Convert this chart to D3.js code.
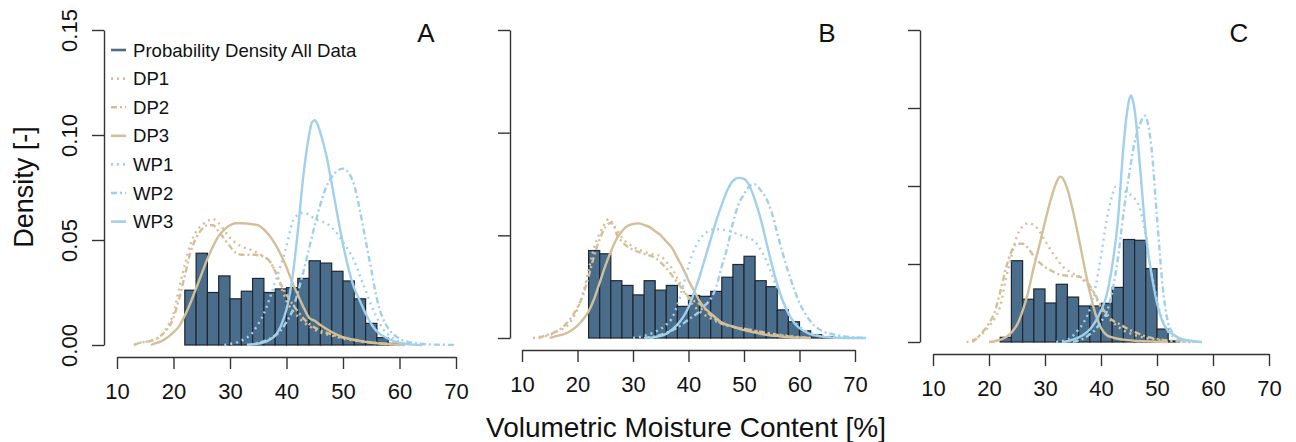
<!doctype html>
<html>
<head>
<meta charset="utf-8">
<script src="https://cdn.jsdelivr.net/npm/d3@7"></script>
<style>
  body { margin: 0; background: #fff; }
  svg { display: block; font-family: "Liberation Sans", Arial, sans-serif; }
</style>
</head>
<body>
<script>
// ---- data ----
var xTicks = [10, 20, 30, 40, 50, 60, 70];
var yTicksAB = [0, 0.05, 0.10, 0.15];
var yTicksC = [0, 0.05, 0.10, 0.15, 0.20];
var yTickLabels = ["0.00", "0.05", "0.10", "0.15"];
var panelNames = ["A", "B", "C"];
var seriesNames = ["DP1", "DP2", "DP3", "WP1", "WP2", "WP3"];
var legendLabels = ["Probability Density All Data", "DP1", "DP2", "DP3", "WP1", "WP2", "WP3"];

// histogram bin lower edges (bin width 2 %)
var binEdges = [22, 24, 26, 28, 30, 32, 34, 36, 38, 40, 42, 44, 46, 48, 50, 52, 54, 56, 58, 60, 62, 64, 66];
var histA = [0.0261, 0.0437, 0.0250, 0.0329, 0.0220, 0.0256, 0.0317, 0.0250, 0.0267, 0.0273, 0.0317,
             0.0401, 0.0390, 0.0351, 0.0305, 0.0220, 0.0103, 0.0035, 0.0008];
var histB = [0.0426, 0.0410, 0.0279, 0.0256, 0.0210, 0.0279, 0.0233, 0.0256, 0.0154, 0.0207, 0.0203,
             0.0227, 0.0296, 0.0358, 0.0398, 0.0279, 0.0250, 0.0137, 0.0079, 0.0035, 0.0016, 0.0006];
var histC = [0.0030, 0.0521, 0.0274, 0.0340, 0.0250, 0.0370, 0.0288, 0.0231, 0.0231, 0.0248, 0.0350,
             0.0657, 0.0652, 0.0470, 0.0083, 0.0007];

// density curves, [moisture %, density]
var A_DP1 = [[13,0],[14,0.001],[16,0.002],[18,0.005],[19,0.009],[20,0.015],[21,0.027],[22,0.038],[23,0.048],[24,0.054],[25,0.057],[26,0.059],[27,0.060],[28,0.058],[30,0.051],[32,0.047],[34,0.045],[36,0.042],[37,0.040],[38,0.035],[39,0.028],[40,0.021],[42,0.0135],[44,0.009],[46,0.006],[48,0.0045],[50,0.003],[52,0.0022],[54,0.0015],[56,0.001],[58,0.0005],[60,0]];
var A_DP2 = [[13,0],[14,0.001],[16,0.002],[18,0.005],[20,0.013],[21,0.022],[22,0.033],[23,0.044],[24,0.051],[25,0.055],[26,0.057],[27,0.057],[28,0.054],[30,0.047],[31,0.044],[32,0.043],[34,0.043],[36,0.042],[37,0.040],[38,0.035],[39,0.029],[40,0.024],[42,0.016],[44,0.010],[46,0.007],[48,0.005],[50,0.0035],[52,0.0025],[54,0.0015],[56,0.001],[58,0.0005],[60,0]];
var A_DP3 = [[16,0],[17,0.001],[18,0.002],[20,0.006],[21,0.009],[22,0.014],[23,0.020],[24,0.027],[25,0.034],[26,0.041],[27,0.047],[28,0.052],[29,0.055],[30,0.057],[31,0.058],[32,0.058],[34,0.0575],[35,0.057],[36,0.055],[37,0.052],[38,0.048],[39,0.043],[40,0.037],[41,0.030],[42,0.024],[43,0.018],[44,0.013],[45,0.0115],[46,0.0095],[48,0.0062],[50,0.0037],[52,0.0024],[54,0.0015],[56,0.0008],[58,0.0004],[60,0.0001],[61,0]];
var A_WP1 = [[29,0],[30,0.0005],[32,0.002],[34,0.006],[35,0.010],[36,0.015],[37,0.022],[38,0.030],[39,0.038],[40,0.047],[41,0.058],[42,0.062],[43,0.063],[44,0.062],[45,0.060],[46,0.059],[47,0.058],[48,0.056],[49,0.053],[50,0.049],[51,0.045],[52,0.040],[53,0.033],[54,0.026],[55,0.019],[56,0.013],[57,0.008],[58,0.005],[60,0.0015],[62,0.0004],[64,0]];
var A_WP2 = [[33,0],[35,0.001],[37,0.003],[39,0.007],[40,0.011],[41,0.016],[42,0.025],[43,0.035],[44,0.046],[45,0.057],[46,0.067],[47,0.075],[48,0.080],[49,0.083],[50,0.084],[51,0.082],[52,0.076],[53,0.064],[54,0.050],[55,0.036],[56,0.022],[57,0.013],[58,0.008],[60,0.003],[62,0.0012],[64,0.0005],[66,0.0002],[68,0.0001],[70,0]];
var A_WP3 = [[33,0],[34,0.0003],[36,0.0012],[37,0.0025],[38,0.0045],[39,0.009],[40,0.017],[41,0.031],[42,0.054],[43,0.081],[44,0.100],[44.5,0.106],[45,0.107],[45.5,0.105],[46,0.101],[47,0.091],[48,0.077],[49,0.062],[50,0.048],[51,0.036],[52,0.027],[53,0.021],[54,0.015],[55,0.010],[56,0.0065],[58,0.003],[60,0.001],[62,0.0003],[64,0]];

var B_DP1 = [[12,0],[13,0.0005],[15,0.0015],[17,0.004],[18,0.0055],[19,0.009],[20,0.014],[21,0.022],[22,0.033],[23,0.044],[24,0.051],[25,0.056],[25.6,0.058],[26,0.057],[27,0.053],[28,0.049],[30,0.0445],[32,0.042],[34,0.0405],[35,0.040],[36,0.037],[37,0.034],[38,0.029],[39,0.024],[40,0.019],[42,0.013],[44,0.0095],[46,0.007],[48,0.0055],[50,0.0045],[52,0.0035],[54,0.0025],[56,0.0018],[58,0.001],[60,0.0005],[62,0]];
var B_DP2 = [[13,0],[14,0.001],[16,0.003],[18,0.007],[20,0.015],[21,0.021],[22,0.030],[23,0.040],[24,0.048],[25,0.054],[26,0.056],[26.5,0.055],[27,0.051],[28,0.047],[30,0.043],[32,0.041],[34,0.039],[36,0.034],[38,0.027],[40,0.020],[41,0.018],[42,0.0165],[43,0.014],[44,0.011],[46,0.007],[48,0.0055],[50,0.0045],[52,0.0035],[54,0.0025],[56,0.0015],[58,0.0008],[60,0.0003],[62,0]];
var B_DP3 = [[15,0],[16,0.0008],[18,0.0023],[20,0.006],[21,0.009],[22,0.013],[23,0.019],[24,0.027],[25,0.035],[26,0.042],[27,0.048],[28,0.052],[29,0.0545],[30,0.0555],[31,0.0558],[32,0.055],[33,0.054],[34,0.052],[35,0.050],[36,0.047],[37,0.044],[38,0.039],[39,0.034],[40,0.028],[41,0.023],[42,0.018],[43,0.0145],[44,0.012],[46,0.0075],[48,0.0055],[50,0.0038],[52,0.0027],[54,0.0016],[56,0.0009],[58,0.0004],[60,0.0002],[62,0]];
var B_WP1 = [[30,0],[32,0.001],[34,0.003],[36,0.0065],[37,0.0095],[38,0.016],[39,0.025],[40,0.035],[41,0.043],[42,0.048],[43,0.051],[44,0.0525],[45,0.053],[46,0.0528],[47,0.0525],[48,0.0515],[49,0.0505],[50,0.0495],[51,0.0485],[52,0.047],[53,0.043],[54,0.038],[55,0.031],[56,0.024],[57,0.018],[58,0.012],[59,0.008],[60,0.0055],[62,0.0025],[64,0.001],[66,0.0004],[68,0]];
var B_WP2 = [[32,0],[34,0.0008],[36,0.0025],[38,0.005],[40,0.009],[42,0.013],[43,0.016],[44,0.019],[45,0.025],[46,0.035],[47,0.044],[48,0.056],[49,0.065],[50,0.070],[51,0.074],[51.7,0.075],[52,0.0748],[53,0.072],[54,0.068],[55,0.061],[56,0.051],[57,0.041],[58,0.032],[59,0.024],[60,0.017],[61,0.012],[62,0.008],[64,0.0035],[66,0.0018],[68,0.0008],[70,0.0003],[72,0]];
var B_WP3 = [[33,0],[34,0.0005],[36,0.002],[37,0.004],[38,0.0065],[39,0.010],[40,0.015],[41,0.022],[42,0.030],[43,0.039],[44,0.048],[45,0.057],[46,0.065],[47,0.072],[48,0.0765],[49,0.078],[50,0.0775],[51,0.074],[52,0.067],[53,0.058],[54,0.047],[55,0.036],[56,0.026],[57,0.018],[58,0.012],[59,0.0075],[60,0.0048],[62,0.0018],[64,0.0007],[66,0.0002],[68,0],[72,0]];

var C_DP1 = [[16,0],[17,0.001],[18,0.003],[19,0.006],[20,0.010],[21,0.015],[22,0.023],[23,0.040],[24,0.055],[25,0.068],[26,0.074],[27,0.076],[28,0.075],[29,0.071],[30,0.065],[31,0.059],[32,0.054],[33,0.049],[34,0.046],[35,0.044],[36,0.042],[37,0.039],[38,0.035],[39,0.029],[40,0.022],[41,0.017],[42,0.013],[43,0.010],[44,0.0075],[46,0.0045],[48,0.0025],[50,0.0015],[52,0.0008],[54,0.0003],[56,0]];
var C_DP2 = [[17,0],[18,0.003],[19,0.007],[20,0.012],[21,0.019],[22,0.032],[23,0.047],[24,0.058],[25,0.063],[26,0.063],[27,0.060],[28,0.055],[29,0.051],[30,0.048],[31,0.046],[32,0.044],[34,0.0425],[36,0.042],[37,0.040],[38,0.036],[39,0.030],[40,0.023],[41,0.018],[42,0.014],[43,0.012],[44,0.010],[45,0.008],[46,0.0065],[48,0.0035],[50,0.002],[52,0.001],[54,0.0004],[56,0]];
var C_DP3 = [[20,0],[21,0.0005],[22,0.0015],[23,0.003],[24,0.006],[25,0.011],[26,0.020],[27,0.032],[28,0.048],[29,0.062],[30,0.077],[31,0.091],[32,0.102],[32.7,0.106],[33,0.1055],[34,0.098],[35,0.084],[36,0.067],[37,0.049],[38,0.032],[39,0.018],[40,0.009],[41,0.0045],[42,0.003],[44,0.0015],[46,0.0008],[48,0.0005],[50,0.0002],[52,0]];
var C_WP1 = [[32,0],[34,0.0015],[35,0.004],[36,0.008],[37,0.013],[38,0.021],[39,0.035],[40,0.055],[41,0.078],[42,0.094],[42.6,0.0996],[43,0.0995],[44,0.097],[45,0.095],[46,0.092],[47,0.085],[48,0.068],[49,0.045],[50,0.027],[51,0.014],[52,0.0065],[53,0.003],[54,0.0012],[56,0]];
var C_WP2 = [[35,0],[36,0.001],[37,0.0025],[38,0.005],[39,0.008],[40,0.013],[41,0.019],[42,0.032],[43,0.053],[44,0.082],[45,0.107],[46,0.128],[47,0.140],[47.8,0.145],[48.5,0.138],[49,0.125],[50,0.080],[51,0.036],[52,0.012],[53,0.005],[54,0.0018],[56,0.0004],[58,0]];
var C_WP3 = [[33,0],[34,0.0005],[35,0.0015],[36,0.003],[37,0.005],[38,0.008],[39,0.013],[40,0.020],[41,0.030],[42,0.049],[43,0.077],[44,0.125],[44.6,0.146],[45,0.155],[45.4,0.158],[45.8,0.153],[46,0.149],[47,0.111],[48,0.069],[49,0.044],[50,0.025],[51,0.013],[52,0.007],[53,0.0045],[54,0.0025],[56,0.0008],[58,0]];

// ---- styling ----
var barFill = "#4a6d8b";
var barStroke = "#1d2731";
var tan = "#d3bf99";
var blue = "#a0d0ec";
var axisColor = "#333";
var seriesColor = [tan, tan, tan, blue, blue, blue];
var seriesDash = ["2,4", "6,3,2,3", null, "2,4", "6,3,2,3", null];

var svgW = 1296, svgH = 442;
var svg = d3.select("body").append("svg")
  .attr("width", svgW)
  .attr("height", svgH);

var panels = [
  {hist: histA, curves: [A_DP1, A_DP2, A_DP3, A_WP1, A_WP2, A_WP3],
   left: 117, right: 456, xAxisY: 357, yAxisX: 104, y0: 345, y1: 30, yMax: 0.15, yTicks: yTicksAB, letterX: 426},
  {hist: histB, curves: [B_DP1, B_DP2, B_DP3, B_WP1, B_WP2, B_WP3],
   left: 522, right: 855, xAxisY: 350, yAxisX: 510, y0: 338, y1: 30, yMax: 0.15, yTicks: yTicksAB, letterX: 827},
  {hist: histC, curves: [C_DP1, C_DP2, C_DP3, C_WP1, C_WP2, C_WP3],
   left: 933, right: 1269, xAxisY: 354, yAxisX: 920, y0: 342, y1: 30, yMax: 0.20, yTicks: yTicksC, letterX: 1239}
];

panels.forEach(function(p, pi) {
  var x = d3.scaleLinear().domain([10, 70]).range([p.left, p.right]);
  var y = d3.scaleLinear().domain([0, p.yMax]).range([p.y0, p.y1]);
  var g = svg.append("g");

  // histogram bars
  g.selectAll("rect.bar")
    .data(p.hist)
    .enter()
    .append("rect")
    .attr("class", "bar")
    .attr("x", function(d, i) { return x(binEdges[i]); })
    .attr("width", function(d, i) { return x(binEdges[i + 1]) - x(binEdges[i]); })
    .attr("y", function(d) { return y(d); })
    .attr("height", function(d) { return y(0) - y(d); })
    .attr("fill", barFill)
    .attr("stroke", barStroke)
    .attr("stroke-width", 1.2);

  // density curves
  var line = d3.line()
    .x(function(d) { return x(d[0]); })
    .y(function(d) { return y(d[1]); })
    .curve(d3.curveMonotoneX);

  p.curves.forEach(function(c, ci) {
    g.append("path")
      .attr("d", line(c))
      .attr("fill", "none")
      .attr("stroke", seriesColor[ci])
      .attr("stroke-width", 2.4)
      .attr("stroke-dasharray", seriesDash[ci]);
  });

  // x axis, offset below the plot like base R
  var xAxis = d3.axisBottom(x).tickValues(xTicks).tickSize(12).tickSizeOuter(0).tickPadding(14);
  var gx = svg.append("g")
    .attr("transform", "translate(0," + p.xAxisY + ")")
    .call(xAxis);
  gx.select(".domain").attr("stroke", axisColor).attr("stroke-width", 1.4);
  gx.selectAll(".tick line").attr("stroke", axisColor).attr("stroke-width", 1.4);
  gx.selectAll("text")
    .attr("font-family", "Liberation Sans, Arial, sans-serif")
    .attr("font-size", "22px")
    .attr("fill", "#111");

  // y axis
  var yAxis = d3.axisLeft(y).tickValues(p.yTicks).tickSize(12).tickSizeOuter(0)
    .tickFormat(function(d, i) { return pi === 0 ? yTickLabels[i] : ""; });
  var gy = svg.append("g")
    .attr("transform", "translate(" + p.yAxisX + ",0)")
    .call(yAxis);
  gy.select(".domain").attr("stroke", axisColor).attr("stroke-width", 1.4);
  gy.selectAll(".tick line").attr("stroke", axisColor).attr("stroke-width", 1.4);
  gy.selectAll("text")
    .attr("font-family", "Liberation Sans, Arial, sans-serif")
    .attr("font-size", "22px")
    .attr("fill", "#111")
    .attr("x", null).attr("dy", null)
    .attr("text-anchor", "middle")
    .attr("transform", "translate(-27,0) rotate(-90)");

  // panel letter
  svg.append("text")
    .attr("x", p.letterX)
    .attr("y", 42)
    .attr("text-anchor", "middle")
    .attr("font-size", "26px")
    .attr("fill", "#111")
    .text(panelNames[pi]);
});

// axis titles
svg.append("text")
  .attr("x", 686)
  .attr("y", 437)
  .attr("text-anchor", "middle")
  .attr("font-size", "28px")
  .attr("fill", "#111")
  .text("Volumetric Moisture Content [%]");

svg.append("text")
  .attr("transform", "translate(33,187) rotate(-90)")
  .attr("text-anchor", "middle")
  .attr("font-size", "27px")
  .attr("fill", "#111")
  .text("Density [-]");

// legend (panel A)
var legColor = [barFill].concat(seriesColor);
var legDash = [null].concat(seriesDash);
var leg = svg.append("g");
legendLabels.forEach(function(lbl, i) {
  var ly = 50 + i * 28.6;
  leg.append("line")
    .attr("x1", 111).attr("x2", 126)
    .attr("y1", ly).attr("y2", ly)
    .attr("stroke", legColor[i])
    .attr("stroke-width", 2.6)
    .attr("stroke-dasharray", legDash[i]);
  leg.append("text")
    .attr("x", 133)
    .attr("y", ly)
    .attr("dy", "0.35em")
    .attr("font-size", "18.6px")
    .attr("fill", "#111")
    .text(lbl);
});
</script>
</body>
</html>
